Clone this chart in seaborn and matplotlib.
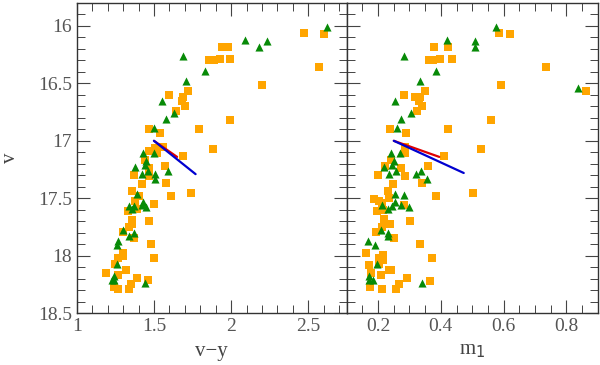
import numpy as np
import matplotlib
matplotlib.use("Agg")
import matplotlib.pyplot as plt
from matplotlib.ticker import MultipleLocator
import seaborn as sns

# left panel: v-y vs v
left_tri_vy = [2.62, 2.09, 2.23, 2.18, 1.69, 1.83, 1.71, 1.55, 1.63, 1.58, 1.50,
               1.43, 1.50, 1.45, 1.44, 1.38, 1.46, 1.42, 1.51, 1.59, 1.51,
               1.39, 1.43, 1.42, 1.34, 1.37, 1.36, 1.45, 1.30, 1.37, 1.34,
               1.27, 1.26, 1.26, 1.24, 1.23, 1.24, 1.44]
left_tri_v = [16.01, 16.12, 16.13, 16.18, 16.26, 16.39, 16.48, 16.65, 16.76, 16.81, 16.89,
              17.11, 17.11, 17.18, 17.21, 17.23, 17.26, 17.29, 17.29, 17.26, 17.33,
              17.46, 17.53, 17.56, 17.57, 17.57, 17.59, 17.58, 17.78, 17.80, 17.83,
              17.87, 17.91, 18.07, 18.18, 18.21, 18.21, 18.24]

left_sq_vy = [2.47, 2.60, 1.94, 1.98, 1.86, 1.89, 1.93, 1.99, 2.57, 2.20, 1.72,
              1.60, 1.69, 1.68, 1.70, 1.64, 1.99, 1.47, 1.54, 1.79, 1.88, 1.51,
              1.56, 1.47, 1.52, 1.69, 1.44, 1.57, 1.47, 1.37, 1.47,
              1.42, 1.58, 1.36, 1.40, 1.61, 1.74, 1.38, 1.50, 1.39, 1.33, 1.47,
              1.36, 1.36, 1.34, 1.30, 1.37, 1.48, 1.30, 1.30, 1.27, 1.25, 1.50,
              1.32, 1.19, 1.27, 1.39, 1.46, 1.35, 1.24, 1.27, 1.34]
left_sq_v = [16.06, 16.07, 16.18, 16.18, 16.30, 16.30, 16.29, 16.29, 16.36, 16.51, 16.57,
             16.60, 16.62, 16.65, 16.70, 16.74, 16.82, 16.90, 16.93, 16.90, 17.07, 17.06,
             17.05, 17.09, 17.11, 17.13, 17.17, 17.22, 17.24, 17.30, 17.31,
             17.38, 17.37, 17.44, 17.48, 17.48, 17.45, 17.52, 17.55, 17.59, 17.61, 17.70,
             17.69, 17.72, 17.75, 17.79, 17.85, 17.90, 17.98, 18.00, 18.02, 18.07, 18.02,
             18.12, 18.15, 18.17, 18.19, 18.21, 18.25, 18.27, 18.29, 18.29]

# right panel: m1 vs v
right_tri_m1 = [0.576, 0.420, 0.510, 0.510, 0.282, 0.385, 0.332, 0.254, 0.305, 0.274, 0.260,
                0.837, 0.241, 0.269, 0.252, 0.244, 0.218, 0.257, 0.234, 0.321, 0.337, 0.355,
                0.253, 0.283, 0.253, 0.212, 0.243, 0.231, 0.273, 0.297, 0.208, 0.231,
                0.230, 0.169, 0.191, 0.196, 0.172, 0.170, 0.183, 0.340]
right_tri_v = [16.01, 16.12, 16.13, 16.18, 16.26, 16.39, 16.48, 16.65, 16.76, 16.81, 16.89,
               16.54, 17.11, 17.11, 17.18, 17.21, 17.23, 17.26, 17.29, 17.29, 17.26, 17.33,
               17.46, 17.47, 17.53, 17.56, 17.57, 17.59, 17.56, 17.58, 17.78, 17.80,
               17.83, 17.87, 17.91, 18.07, 18.18, 18.21, 18.21, 18.24]

right_sq_m1 = [0.587, 0.621, 0.377, 0.423, 0.363, 0.376, 0.397, 0.435, 0.737, 0.592, 0.862,
               0.348, 0.283, 0.319, 0.332, 0.329, 0.341, 0.323, 0.559, 0.238, 0.289, 0.422,
               0.528, 0.287, 0.287, 0.409, 0.242, 0.358, 0.274, 0.223, 0.199, 0.286,
               0.247, 0.339, 0.383, 0.502, 0.188, 0.202, 0.232, 0.236, 0.213, 0.281,
               0.197, 0.215, 0.303, 0.218, 0.239, 0.212, 0.193, 0.252, 0.332, 0.160,
               0.215, 0.204, 0.217, 0.371, 0.171, 0.204, 0.235, 0.241, 0.178, 0.209,
               0.291, 0.366, 0.268, 0.174, 0.212, 0.257]
right_sq_v = [16.06, 16.07, 16.18, 16.18, 16.30, 16.30, 16.29, 16.29, 16.36, 16.51, 16.57,
              16.57, 16.60, 16.62, 16.62, 16.65, 16.70, 16.74, 16.82, 16.90, 16.93, 16.90,
              17.07, 17.05, 17.11, 17.13, 17.17, 17.22, 17.24, 17.22, 17.30, 17.31,
              17.38, 17.37, 17.48, 17.45, 17.51, 17.52, 17.44, 17.50, 17.54, 17.56,
              17.61, 17.60, 17.70, 17.68, 17.72, 17.75, 17.79, 17.85, 17.90, 17.98,
              17.99, 18.02, 18.04, 18.02, 18.08, 18.07, 18.12, 18.12, 18.15, 18.17,
              18.19, 18.22, 18.25, 18.27, 18.29, 18.29]

# fitted lines
left_blue_x, left_blue_y = [1.50, 1.77], [17.00, 17.29]
left_red_x, left_red_y = [1.50, 1.65], [17.00, 17.14]
right_blue_x, right_blue_y = [0.250, 0.473], [17.00, 17.28]
right_red_x, right_red_y = [0.250, 0.395], [17.00, 17.14]

ORANGE = "#FFA500"
GREEN = "#078A07"

sns.set_style("white")
plt.rcParams["font.family"] = ["Liberation Serif", "DejaVu Serif"]

fig = plt.figure(figsize=(6, 3.65), dpi=100)
ax1 = fig.add_axes([0.128, 0.142, 0.450, 0.85])
ax2 = fig.add_axes([0.578, 0.142, 0.418, 0.85], sharey=ax1)


def draw_panel(ax, sq_x, sq_y, tri_x, tri_y, red, blue):
    sns.scatterplot(x=sq_x, y=sq_y, marker="s", s=27, color=ORANGE,
                    linewidth=0, ax=ax, zorder=3)
    sns.scatterplot(x=tri_x, y=tri_y, marker="^", s=34, color=GREEN,
                    linewidth=0, ax=ax, zorder=3)
    sns.lineplot(x=red[0], y=red[1], color="#E00000", lw=1.6, sort=False,
                 estimator=None, ax=ax, zorder=4)
    sns.lineplot(x=blue[0], y=blue[1], color="#0000D0", lw=1.6, sort=False,
                 estimator=None, ax=ax, zorder=4)
    ax.tick_params(which="both", direction="in", top=True, right=True,
                   bottom=True, left=True,
                   color="#444444", labelcolor="#555555", labelsize=14)
    ax.tick_params(which="major", length=9.5, width=0.8)
    ax.tick_params(which="minor", length=5.5, width=0.7)
    for sp in ax.spines.values():
        sp.set_color("#333333")
        sp.set_linewidth(1.0)


draw_panel(ax1, left_sq_vy, left_sq_v, left_tri_vy, left_tri_v,
           (left_red_x, left_red_y), (left_blue_x, left_blue_y))
draw_panel(ax2, right_sq_m1, right_sq_v, right_tri_m1, right_tri_v,
           (right_red_x, right_red_y), (right_blue_x, right_blue_y))

ax1.set_xlim(1, 2.75)
ax1.set_ylim(18.5, 15.8)
ax1.xaxis.set_major_locator(MultipleLocator(0.5))
ax1.xaxis.set_minor_locator(MultipleLocator(0.1))
ax1.yaxis.set_major_locator(MultipleLocator(0.5))
ax1.yaxis.set_minor_locator(MultipleLocator(0.1))
ax1.set_xticks([1, 1.5, 2, 2.5], ["1", "1.5", "2", "2.5"])
ax1.set_yticks([16, 16.5, 17, 17.5, 18, 18.5], ["16", "16.5", "17", "17.5", "18", "18.5"])

ax2.set_xlim(0.1, 0.9)
ax2.xaxis.set_major_locator(MultipleLocator(0.2))
ax2.xaxis.set_minor_locator(MultipleLocator(0.05))
ax2.set_xticks([0.2, 0.4, 0.6, 0.8], ["0.2", "0.4", "0.6", "0.8"])
ax2.tick_params(labelleft=False)

ax1.set_xlabel("v\u2212y", fontsize=15, color="#444444", labelpad=5)
ax1.set_ylabel("v", fontsize=15, color="#444444", labelpad=13)
ax2.set_xlabel("m$_1$", fontsize=15, color="#444444", labelpad=4)

fig.savefig("out.png", dpi=100)
